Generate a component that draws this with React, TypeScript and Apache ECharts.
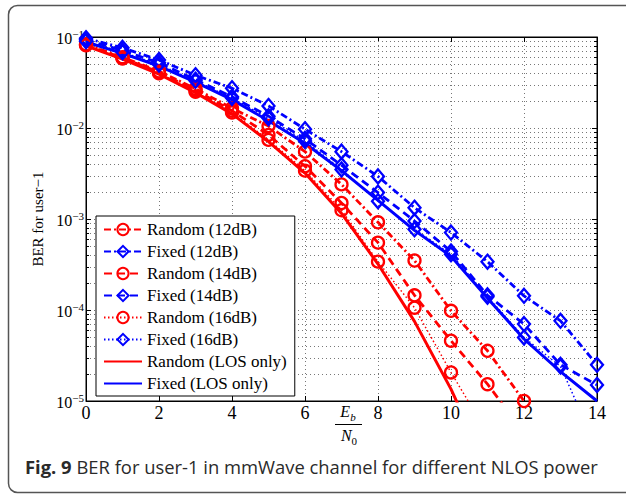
import React, { useEffect, useRef } from "react";
import * as echarts from "echarts";

// Eb/N0 values (x axis)
const ebn0 = [0, 1, 2, 3, 4, 5, 6, 7, 8, 9, 10, 11, 12, 13, 14];

// BER values
const random12 = [0.083, 0.06, 0.042, 0.027, 0.0165, 0.0105, 0.0055, 0.0024, 0.00092, 0.00035, 0.000098, 0.0000356, 0.00001];
const fixed12 = [0.097, 0.076, 0.056, 0.038, 0.0274, 0.0175, 0.0097, 0.0055, 0.00294, 0.00133, 0.00071, 0.00034, 0.000143, 0.000076, 0.000025];
const random14 = [0.082, 0.059, 0.041, 0.026, 0.0155, 0.0084, 0.0038, 0.0015, 0.00055, 0.000145, 0.000046, 0.0000153, 0.0000045];
const fixed14 = [0.093, 0.071, 0.052, 0.034, 0.022, 0.0135, 0.0076, 0.0039, 0.00195, 0.00095, 0.00044, 0.000145, 0.00007, 0.000025, 0.000015];
const random16 = [0.081, 0.058, 0.04, 0.025, 0.0148, 0.0074, 0.0034, 0.00125, 0.00034, 0.000106, 0.0000206, 0.0000044];
const fixed16 = [0.09, 0.068, 0.05, 0.033, 0.0213, 0.0128, 0.0072, 0.0035, 0.00157, 0.00077, 0.00041, 0.00014, 0.00005, 0.000024, 0.000003];
const randomLOS = [0.08, 0.057, 0.039, 0.0245, 0.0143, 0.0071, 0.0032, 0.00115, 0.00032, 0.000075, 0.0000135, 0.0000018];
const fixedLOS = [0.088, 0.066, 0.048, 0.032, 0.0205, 0.012, 0.0068, 0.0034, 0.0016, 0.00075, 0.00039, 0.000135, 0.000048, 0.000021, 0.00001];

const seriesNames = [
  "Random (12dB)",
  "Fixed (12dB)",
  "Random (14dB)",
  "Fixed (14dB)",
  "Random (16dB)",
  "Fixed (16dB)",
  "Random (LOS only)",
  "Fixed (LOS only)",
];

const yMin = 1e-5;
const yMax = 1e-1;
const decades = [1e-5, 1e-4, 1e-3, 1e-2];
const minorMultipliers = [2, 3, 4, 5, 6, 7, 8, 9];

const SERIF = "'Liberation Serif', 'Times New Roman', serif";
const SANS = "'Open Sans', 'Noto Sans', sans-serif";
const RED = "#ff0000";
const BLUE = "#0000ff";

function mk(name: string, data: number[], color: string, type: any, width: number, symbol?: string) {
  return {
    name,
    type: "line",
    xAxisIndex: 0,
    yAxisIndex: 0,
    data: data.map((v, i) => [ebn0[i], v]),
    symbol: symbol || "none",
    showSymbol: !!symbol,
    symbolSize: symbol === "diamond" ? [12, 14] : 12,
    lineStyle: { color, width, type },
    itemStyle: { color: "rgba(255,255,255,0)", borderColor: color, borderWidth: 2.3 },
    clip: true,
    z: 3,
    silent: true,
  };
}

export default function App() {
  const ref = useRef<HTMLDivElement>(null);
  useEffect(() => {
    if (!ref.current) return;
    const chart = echarts.init(ref.current, null, { renderer: "svg" });

    const minorVals: number[][] = [];
    decades.forEach((d) => minorMultipliers.forEach((m) => minorVals.push([0, d * m])));

    const dashDot = [7, 3, 2, 3];
    const dashed = [8, 5];
    const dotted = [1.5, 2.5];

    const legendData = seriesNames.map((n, i) =>
      i >= 6 ? { name: n, itemStyle: { color: "rgba(0,0,0,0)", borderColor: "rgba(0,0,0,0)", borderWidth: 0 } } : { name: n }
    );

    const option: any = {
      animation: false,
      backgroundColor: "#fff",
      grid: { left: 86, top: 37, width: 511, height: 364, show: true, borderColor: "#000", borderWidth: 1, backgroundColor: "transparent" },
      legend: {
        data: legendData,
        orient: "vertical",
        left: 96,
        top: 216,
        itemWidth: 38,
        itemHeight: 14,
        itemGap: 5,
        padding: [5, 8, 4, 7],
        backgroundColor: "#fff",
        borderColor: "#000",
        borderWidth: 1,
        borderRadius: 0,
        selectedMode: false,
        textStyle: { fontFamily: SERIF, fontSize: 17, color: "#000", lineHeight: 16 },
      },
      xAxis: [
        {
          type: "value",
          min: 0,
          max: 14,
          interval: 2,
          position: "bottom",
          axisLine: { show: true, onZero: false, lineStyle: { color: "#000", width: 1 } },
          axisTick: { show: true, inside: true, length: 5, lineStyle: { color: "#000" } },
          axisLabel: { fontFamily: SERIF, fontSize: 18, color: "#000", margin: 3 },
          splitLine: { show: true, lineStyle: { color: "#777", width: 1, type: [1, 3] } },
        },
        {
          type: "value",
          min: 0,
          max: 14,
          interval: 2,
          position: "top",
          axisLine: { show: true, onZero: false, lineStyle: { color: "#000", width: 1 } },
          axisTick: { show: true, inside: true, length: 5, lineStyle: { color: "#000" } },
          axisLabel: { show: false },
          splitLine: { show: false },
        },
      ],
      yAxis: [
        {
          type: "log",
          logBase: 10,
          min: yMin,
          max: yMax,
          position: "left",
          name: "BER for user\u22121",
          nameLocation: "middle",
          nameGap: 32,
          nameRotate: 90,
          nameTextStyle: { fontFamily: SERIF, fontSize: 15, color: "#000" },
          axisLine: { show: true, onZero: false, lineStyle: { color: "#000", width: 1 } },
          axisTick: { show: true, inside: true, length: 5, lineStyle: { color: "#000" } },
          axisLabel: {
            margin: 2,
            formatter: (v: number) => {
              const e = Math.round(Math.log10(v));
              return `{b|10}{s|\u2212${-e}}`;
            },
            rich: {
              b: { fontFamily: SERIF, fontSize: 16, color: "#000", verticalAlign: "bottom" },
              s: { fontFamily: SERIF, fontSize: 11, color: "#000", verticalAlign: "top", padding: [0, 0, 7, 0] },
            },
          },
          splitLine: { show: true, lineStyle: { color: "#777", width: 1, type: [1, 3] } },
        },
        {
          type: "log",
          logBase: 10,
          min: yMin,
          max: yMax,
          position: "right",
          axisLine: { show: true, onZero: false, lineStyle: { color: "#000", width: 1 } },
          axisTick: { show: true, inside: true, length: 5, lineStyle: { color: "#000" } },
          axisLabel: { show: false },
          splitLine: { show: false },
        },
      ],
      series: [
        {
          type: "custom",
          name: "_minorgrid",
          silent: true,
          z: 1,
          xAxisIndex: 0,
          yAxisIndex: 0,
          data: minorVals,
          encode: { x: 0, y: 1 },
          renderItem: (params: any, api: any) => {
            const v = api.value(1);
            const p0 = api.coord([0, v]);
            const p1 = api.coord([14, v]);
            const y = Math.round(p0[1]) + 0.5;
            return {
              type: "group",
              children: [
                { type: "line", shape: { x1: p0[0], y1: y, x2: p1[0], y2: y }, style: { stroke: "#777", lineWidth: 1, lineDash: [1, 3] } },
                { type: "line", shape: { x1: p0[0], y1: y, x2: p0[0] + 3, y2: y }, style: { stroke: "#000", lineWidth: 1 } },
                { type: "line", shape: { x1: p1[0] - 3, y1: y, x2: p1[0], y2: y }, style: { stroke: "#000", lineWidth: 1 } },
              ],
            };
          },
        },
        mk(seriesNames[0], random12, RED, dashDot, 2.8, "circle"),
        mk(seriesNames[1], fixed12, BLUE, dashDot, 2.8, "diamond"),
        mk(seriesNames[2], random14, RED, dashed, 2.8, "circle"),
        mk(seriesNames[3], fixed14, BLUE, dashed, 2.8, "diamond"),
        mk(seriesNames[4], random16, RED, dotted, 1.5, "circle"),
        mk(seriesNames[5], fixed16, BLUE, dotted, 1.5, "diamond"),
        mk(seriesNames[6], randomLOS, RED, "solid", 3),
        mk(seriesNames[7], fixedLOS, BLUE, "solid", 3),
      ],
      graphic: [
        {
          type: "rect",
          silent: true,
          shape: { x: 8.5, y: 5.5, width: 700, height: 487, r: 9 },
          style: { fill: "none", stroke: "#555", lineWidth: 1.5 },
          z: -1,
        },
        {
          type: "text",
          x: 348,
          y: 413,
          style: {
            text: "{i|E}{sub|b}",
            align: "center",
            verticalAlign: "middle",
            rich: {
              i: { fontFamily: SERIF, fontStyle: "italic", fontSize: 16, fill: "#000", verticalAlign: "top" },
              sub: { fontFamily: SERIF, fontStyle: "italic", fontSize: 11, fill: "#000", verticalAlign: "bottom", padding: [8, 0, 0, 0] },
            },
          },
        },
        {
          type: "line",
          shape: { x1: 335, y1: 424.5, x2: 362, y2: 424.5 },
          style: { stroke: "#000", lineWidth: 1 },
        },
        {
          type: "text",
          x: 349,
          y: 437,
          style: {
            text: "{i|N}{sub|0}",
            align: "center",
            verticalAlign: "middle",
            rich: {
              i: { fontFamily: SERIF, fontStyle: "italic", fontSize: 16, fill: "#000", verticalAlign: "top" },
              sub: { fontFamily: SERIF, fontSize: 11, fill: "#000", verticalAlign: "bottom", padding: [8, 0, 0, 0] },
            },
          },
        },
        {
          type: "text",
          x: 25,
          y: 466,
          style: {
            text: "{b|Fig. 9} BER for user-1 in mmWave channel for different NLOS power",
            fontFamily: SANS,
            fontSize: 18.4,
            fill: "#2a2a2a",
            verticalAlign: "middle",
            rich: {
              b: { fontFamily: SANS, fontSize: 18.4, fontWeight: "bold", fill: "#2a2a2a" },
            },
          },
        },
      ],
    };

    chart.setOption(option);
    return () => chart.dispose();
  }, []);

  return <div ref={ref} style={{ position: "fixed", left: 0, top: 0, width: 626, height: 499 }} />;
}
